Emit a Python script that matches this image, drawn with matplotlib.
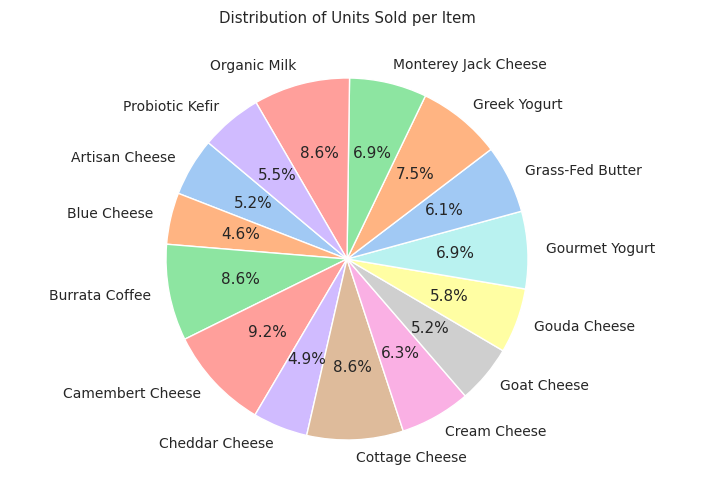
import matplotlib
matplotlib.use("Agg")
import matplotlib.pyplot as plt
import seaborn as sns

items = [
    "Artisan Cheese", "Blue Cheese", "Burrata Coffee", "Camembert Cheese",
    "Cheddar Cheese", "Cottage Cheese", "Cream Cheese", "Goat Cheese",
    "Gouda Cheese", "Gourmet Yogurt", "Grass-Fed Butter", "Greek Yogurt",
    "Monterey Jack Cheese", "Organic Milk", "Probiotic Kefir",
]
units_sold = [52, 46, 86, 92, 49, 86, 63, 52, 58, 69, 61, 75, 69, 86, 55]

sns.set_theme(style="white")
plt.rcParams['font.family'] = ['DejaVu Sans']

colores = sns.color_palette("pastel", 10)
colores = [colores[i % 10] for i in range(len(items))]

fig = plt.figure(figsize=(7.09, 5.0), dpi=100)
ax = fig.add_axes([0, 0, 1, 1])

ax.pie(units_sold, labels=items, colors=colores, autopct='%1.1f%%',
       startangle=140, wedgeprops={'edgecolor': 'white', 'linewidth': 1},
       textprops={'fontsize': 10, 'color': '#262626'})
for t in ax.texts:
    if t.get_text().endswith('%'):
        t.set_fontsize(11)

# radio ~181 px, centro en (347, 259)
r = 181
cx, cy = 347, 259
ax.set_aspect('auto')
ax.set_xlim(-cx / r, (709 - cx) / r)
ax.set_ylim(-(500 - cy) / r, cy / r)
ax.axis('off')

fig.text(0.49, 1 - 19 / 500, "Distribution of Units Sold per Item",
         ha='center', va='center', fontsize=10.8, color='#262626')

fig.savefig('out.png', dpi=100)
plt.close(fig)
